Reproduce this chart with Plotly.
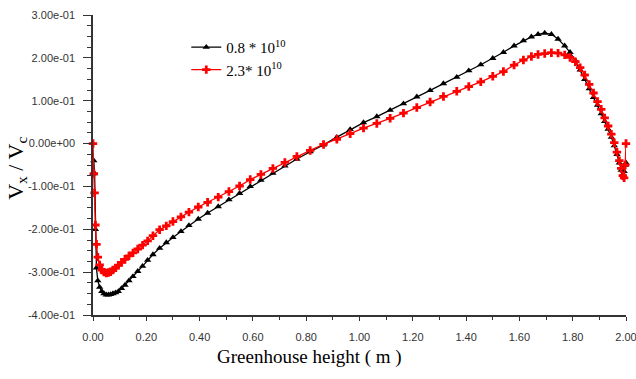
import plotly.graph_objects as go

x_vals = [0.000, 0.003, 0.006, 0.009, 0.013, 0.018, 0.025, 0.033, 0.041, 0.050,
          0.058, 0.066, 0.075, 0.085, 0.095, 0.107, 0.120, 0.135, 0.150, 0.168,
          0.186, 0.205, 0.225, 0.250, 0.275, 0.300, 0.330, 0.360, 0.395, 0.430,
          0.470, 0.510, 0.550, 0.590, 0.630, 0.675, 0.720, 0.765, 0.815, 0.865,
          0.915, 0.965, 1.015, 1.065, 1.115, 1.165, 1.215, 1.265, 1.315, 1.365,
          1.410, 1.455, 1.500, 1.540, 1.580, 1.615, 1.645, 1.670, 1.695, 1.720,
          1.745, 1.770, 1.790, 1.810, 1.828, 1.845, 1.862, 1.878, 1.893, 1.907,
          1.920, 1.933, 1.945, 1.956, 1.966, 1.975, 1.982, 1.988, 1.993, 1.997,
          2.000]

ra_08 = [-0.070, -0.040, -0.070, -0.200, -0.290, -0.320, -0.335, -0.345, -0.350, -0.353,
         -0.353, -0.352, -0.350, -0.348, -0.345, -0.338, -0.330, -0.320, -0.310, -0.298,
         -0.286, -0.272, -0.259, -0.244, -0.231, -0.219, -0.205, -0.191, -0.176, -0.162,
         -0.147, -0.131, -0.116, -0.100, -0.085, -0.069, -0.052, -0.036, -0.019, -0.003,
         0.015, 0.033, 0.049, 0.063, 0.078, 0.093, 0.109, 0.124, 0.140, 0.155,
         0.170, 0.184, 0.199, 0.213, 0.228, 0.240, 0.249, 0.255, 0.258, 0.255,
         0.244, 0.228, 0.213, 0.193, 0.172, 0.150, 0.128, 0.108, 0.090, 0.070,
         0.052, 0.034, 0.015, -0.005, -0.025, -0.045, -0.062, -0.072, -0.065, -0.050,
         -0.045]

ra_23 = [0.000, -0.070, -0.115, -0.190, -0.235, -0.265, -0.283, -0.295, -0.300, -0.302,
         -0.301, -0.299, -0.295, -0.290, -0.284, -0.277, -0.270, -0.262, -0.255, -0.246,
         -0.237, -0.227, -0.215, -0.201, -0.192, -0.182, -0.171, -0.160, -0.148, -0.137,
         -0.125, -0.112, -0.099, -0.084, -0.072, -0.058, -0.044, -0.030, -0.016, -0.002,
         0.010, 0.023, 0.036, 0.047, 0.059, 0.071, 0.084, 0.097, 0.110, 0.122,
         0.133, 0.144, 0.157, 0.168, 0.183, 0.195, 0.203, 0.208, 0.210, 0.212,
         0.211, 0.207, 0.201, 0.191, 0.177, 0.160, 0.138, 0.118, 0.098, 0.080,
         0.060, 0.041, 0.022, 0.002, -0.020, -0.040, -0.058, -0.075, -0.080, -0.050,
         0.000]

series_names = ["0.8 * 10<sup>10</sup>", "2.3* 10<sup>10</sup>"]
x_title = "Greenhouse height ( m )"
y_title = "V<sub>x</sub> / V<sub>c</sub>"

x_tick_vals = [0.0, 0.2, 0.4, 0.6, 0.8, 1.0, 1.2, 1.4, 1.6, 1.8, 2.0]
x_tick_text = ["0.00", "0.20", "0.40", "0.60", "0.80", "1.00", "1.20", "1.40", "1.60", "1.80", "2.00"]
y_tick_vals = [0.3, 0.2, 0.1, 0.0, -0.1, -0.2, -0.3, -0.4]
y_tick_text = ["3.00e-01", "2.00e-01", "1.00e-01", "0.00e+00", "-1.00e-01", "-2.00e-01", "-3.00e-01", "-4.00e-01"]

x_minor = [round(0.1 * i, 2) for i in range(21)]
y_minor = [round(-0.4 + 0.025 * i, 3) for i in range(29)]

fig = go.Figure()
fig.add_trace(go.Scatter(
    x=x_vals, y=ra_08, mode="lines+markers", name=series_names[0],
    line=dict(color="#000000", width=1.3),
    marker=dict(symbol="triangle-up", size=6.5, color="#000000"),
    cliponaxis=False,
))
fig.add_trace(go.Scatter(
    x=x_vals, y=ra_23, mode="lines+markers", name=series_names[1],
    line=dict(color="#ff0000", width=1.3),
    marker=dict(symbol="cross", size=7, color="#ff0000"),
    cliponaxis=False,
))

serif = "Liberation Serif, Times New Roman, serif"
axis_font = dict(family="Liberation Sans, Arial, sans-serif", size=11, color="#333333")
fig.update_layout(
    width=636, height=379,
    margin=dict(l=93, r=10, t=15, b=64),
    paper_bgcolor="white", plot_bgcolor="white",
    showlegend=True,
    legend=dict(
        x=0.175, y=0.947, xanchor="left", yanchor="top",
        font=dict(family=serif, size=15, color="#000000"),
        bgcolor="rgba(0,0,0,0)", tracegroupgap=0, itemwidth=30,
    ),
    xaxis=dict(
        range=[0, 2.0], tickmode="array", tickvals=x_tick_vals, ticktext=x_tick_text,
        showgrid=False, zeroline=False, showline=True, linecolor="#333333", linewidth=1.5,
        ticks="outside", ticklen=4, tickcolor="#333333", tickwidth=1,
        minor=dict(tickmode="array", tickvals=x_minor, ticks="outside", ticklen=3, tickcolor="#333333"),
        tickfont=axis_font, automargin=False, ticklabelstandoff=7,
        ticklabeloverflow="allow",
    ),
    yaxis=dict(
        range=[-0.4, 0.3], tickmode="array", tickvals=y_tick_vals, ticktext=y_tick_text,
        showgrid=False, zeroline=False, showline=True, linecolor="#333333", linewidth=1.5,
        ticks="outside", ticklen=8, tickcolor="#333333", tickwidth=1,
        minor=dict(tickmode="array", tickvals=y_minor, ticks="outside", ticklen=4, tickcolor="#333333"),
        tickfont=axis_font, automargin=False, ticklabelstandoff=6,
        ticklabeloverflow="allow",
    ),
    annotations=[
        dict(text=x_title, xref="paper", yref="paper", x=0.407, y=-0.14,
             xanchor="center", yanchor="middle", showarrow=False,
             font=dict(family=serif, size=19, color="#000000")),
        dict(text=y_title, xref="paper", yref="paper", x=-0.143, y=0.49,
             xanchor="center", yanchor="middle", showarrow=False, textangle=-90,
             font=dict(family=serif, size=22, color="#000000")),
    ],
)

fig.write_html("out.html", config={"displayModeBar": False},
               post_script="document.body.style.margin='0';document.body.style.overflow='hidden';")
